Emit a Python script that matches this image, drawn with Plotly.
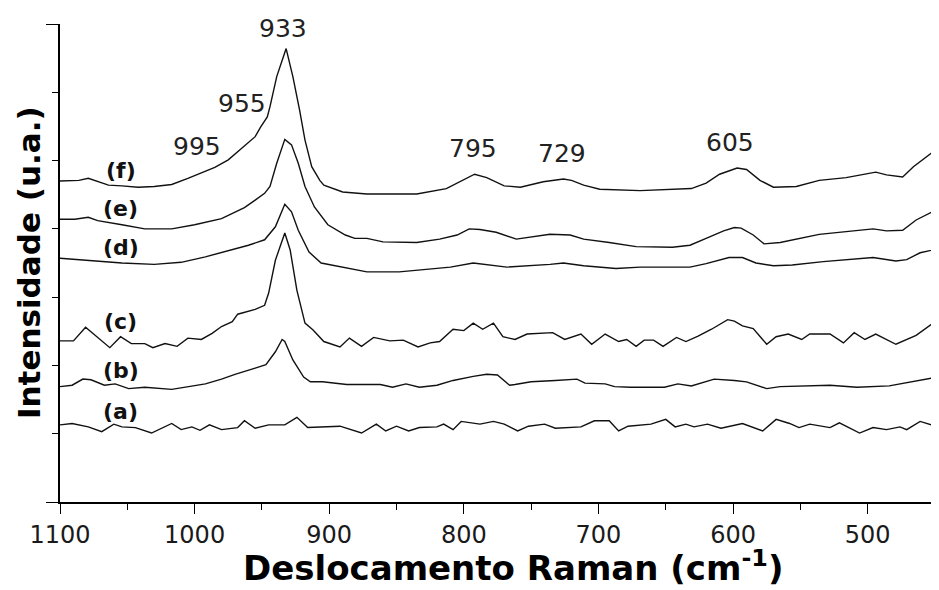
import plotly.graph_objects as go

# ---- data ----
wn_a = [1100,1091,1079,1069,1060,1054,1044,1032,1017,1010,1002,996,989,980,968,963,955,945,933,924,916,907,892,876,865,858,850,841,833,820,815,808,802,788,778,770,760,752,740,732,713,703,692,685,678,661,650,643,635,629,619,609,599,593,578,568,558,551,543,528,521,506,496,486,476,471,461,448]
int_a = [1.13,1.15,1.10,1.03,1.14,1.10,1.09,1.01,1.15,1.06,1.10,1.05,1.13,1.06,1.09,1.19,1.08,1.13,1.13,1.24,1.09,1.10,1.11,1.01,1.14,1.04,1.11,1.04,1.09,1.10,1.14,1.06,1.18,1.14,1.18,1.14,1.04,1.11,1.14,1.08,1.10,1.19,1.19,1.04,1.11,1.14,1.21,1.10,1.14,1.10,1.14,1.08,1.13,1.15,1.04,1.21,1.15,1.09,1.14,1.09,1.16,1.01,1.09,1.06,1.10,1.06,1.18,1.10]

wn_b = [1100,1091,1083,1077,1067,1059,1049,1037,1017,1005,992,980,970,955,947,940,935,933,927,919,914,905,887,862,853,843,833,820,808,793,783,775,766,762,750,732,716,710,695,688,676,651,641,631,614,599,590,575,565,528,508,484,461,448]
int_b = [1.69,1.71,1.80,1.79,1.71,1.73,1.66,1.68,1.65,1.69,1.73,1.80,1.87,1.96,2.01,2.20,2.38,2.35,2.08,1.83,1.76,1.76,1.72,1.72,1.68,1.73,1.68,1.71,1.78,1.84,1.87,1.86,1.71,1.72,1.76,1.78,1.80,1.74,1.73,1.69,1.68,1.68,1.73,1.70,1.80,1.78,1.76,1.66,1.69,1.71,1.68,1.70,1.78,1.83]

wn_c = [1100,1090,1081,1074,1063,1055,1047,1037,1031,1022,1013,1005,995,987,980,972,968,955,948,945,940,933,929,924,918,912,904,892,885,876,867,855,845,834,825,818,808,800,793,786,778,771,762,753,734,725,713,705,695,685,679,672,666,659,652,642,635,626,616,604,599,593,585,575,568,559,549,543,528,518,510,502,494,479,464,452,447]
int_c = [2.36,2.36,2.56,2.44,2.26,2.42,2.32,2.32,2.26,2.32,2.28,2.40,2.38,2.47,2.57,2.64,2.75,2.82,2.88,3.06,3.54,3.94,3.69,3.10,2.62,2.52,2.35,2.27,2.40,2.28,2.41,2.36,2.37,2.27,2.33,2.35,2.53,2.51,2.62,2.53,2.62,2.42,2.38,2.46,2.48,2.38,2.46,2.31,2.46,2.35,2.38,2.28,2.37,2.37,2.28,2.41,2.35,2.43,2.53,2.67,2.65,2.58,2.54,2.31,2.42,2.46,2.38,2.46,2.46,2.33,2.48,2.38,2.46,2.31,2.44,2.61,2.62]

wn_d = [1100,1079,1054,1030,1010,992,975,960,948,940,933,928,923,915,906,891,872,848,823,810,793,781,768,736,726,711,687,669,632,620,603,593,583,570,556,533,496,479,471,461,447]
int_d = [3.57,3.54,3.50,3.48,3.51,3.59,3.68,3.76,3.84,4.03,4.36,4.25,3.98,3.66,3.50,3.44,3.37,3.37,3.42,3.44,3.50,3.47,3.44,3.48,3.50,3.46,3.42,3.44,3.44,3.49,3.58,3.58,3.50,3.46,3.47,3.52,3.58,3.53,3.55,3.65,3.71]

wn_e = [1100,1089,1079,1072,1054,1037,1017,1000,980,963,955,948,944,939,933,928,923,918,911,901,888,881,872,860,835,818,805,796,788,776,761,750,736,721,711,692,672,645,632,620,607,599,594,585,577,565,551,536,516,496,486,474,464,452,447]
int_e = [4.14,4.14,4.17,4.12,4.06,4.00,4.00,4.06,4.15,4.31,4.42,4.52,4.62,4.96,5.31,5.23,4.96,4.62,4.32,4.06,3.91,3.86,3.86,3.81,3.80,3.85,3.91,4.00,3.99,3.95,3.85,3.88,3.92,3.91,3.85,3.80,3.74,3.73,3.76,3.86,3.97,4.02,4.01,3.91,3.78,3.80,3.86,3.92,3.96,4.00,3.97,3.98,4.13,4.25,4.27]

wn_f = [1100,1086,1079,1073,1064,1054,1042,1030,1017,1005,995,985,975,965,955,951,946,944,939,932,927,922,918,913,907,904,890,872,835,813,803,792,783,770,758,741,726,720,711,699,669,650,631,620,610,597,590,580,570,553,536,516,494,486,474,466,452,447]
int_f = [4.70,4.71,4.74,4.70,4.64,4.63,4.61,4.62,4.65,4.74,4.82,4.90,5.01,5.18,5.35,5.49,5.64,5.79,6.23,6.64,6.23,5.74,5.30,4.91,4.71,4.64,4.54,4.51,4.51,4.59,4.69,4.80,4.75,4.63,4.61,4.69,4.73,4.71,4.64,4.58,4.56,4.57,4.59,4.67,4.80,4.89,4.87,4.71,4.61,4.62,4.71,4.75,4.83,4.79,4.76,4.91,5.12,5.13]

curve_names = ["(a)", "(b)", "(c)", "(d)", "(e)", "(f)"]
curve_label_x = 1055
curve_label_y = [1.32, 1.92, 2.65, 3.73, 4.30, 4.86]

peak_labels = ["995", "955", "933", "795", "729", "605"]
peak_label_x = [998, 965, 934, 793, 727, 602]
peak_label_y = [5.21, 5.83, 6.94, 5.18, 5.11, 5.26]

x_tick_vals = [1100, 1000, 900, 800, 700, 600, 500]
x_tick_text = ["1100", "1000", "900", "800", "700", "600", "500"]

# ---- figure ----
fig = go.Figure()
series = [(wn_a, int_a), (wn_b, int_b), (wn_c, int_c), (wn_d, int_d), (wn_e, int_e), (wn_f, int_f)]
for name, (xs, ys) in zip(curve_names, series):
    fig.add_trace(go.Scatter(x=xs, y=ys, mode="lines", name=name,
                             line=dict(color="#111111", width=1.4), showlegend=False))

annotations = []
for name, yv in zip(curve_names, curve_label_y):
    annotations.append(dict(x=curve_label_x, y=yv, xref="x", yref="y", text="<b>" + name + "</b>",
                            showarrow=False, font=dict(family="DejaVu Sans", size=22, color="#111111")))
for t, xv, yv in zip(peak_labels, peak_label_x, peak_label_y):
    annotations.append(dict(x=xv, y=yv, xref="x", yref="y", text=t, showarrow=False,
                            font=dict(family="DejaVu Sans", size=25, color="#222222")))

annotations.append(dict(x=0, y=0.5, xref="paper", yref="paper", xshift=-31, text="<b>Intensidade (u.a.)</b>",
                        textangle=-90, showarrow=False, xanchor="center", yanchor="middle",
                        font=dict(family="DejaVu Sans", size=31, color="#000000")))
annotations.append(dict(x=0.515, y=0, xref="paper", yref="paper", yshift=-64,
                        text="<b>Deslocamento Raman (cm<sup>-1</sup>)</b>",
                        showarrow=False, xanchor="center", yanchor="middle",
                        font=dict(family="DejaVu Sans", size=34, color="#000000")))

# the page body keeps an 8px default margin, so the figure is 8px smaller on each axis
fig.update_layout(
    width=931, height=582,
    margin=dict(l=52, r=0, t=16, b=88),
    paper_bgcolor="white", plot_bgcolor="white",
    annotations=annotations,
)
fig.update_xaxes(
    range=[1100, 447], showgrid=False, zeroline=False,
    showline=True, linecolor="black", linewidth=1.6,
    tickmode="array", tickvals=x_tick_vals, ticktext=x_tick_text,
    ticks="outside", ticklen=10, tickwidth=1.4, tickcolor="black",
    tickfont=dict(family="DejaVu Sans", size=24, color="#1a1a1a"),
    minor=dict(tickmode="linear", tick0=0, dtick=50, ticks="outside", ticklen=6, tickwidth=1.2, tickcolor="black"),
)
fig.update_yaxes(
    range=[0, 7], showgrid=False, zeroline=False,
    showline=True, linecolor="black", linewidth=1.6,
    tickmode="array", tickvals=[0, 7], showticklabels=False,
    ticks="outside", ticklen=12, tickwidth=1.4, tickcolor="black",
    minor=dict(tickmode="linear", tick0=0, dtick=1, ticks="outside", ticklen=6, tickwidth=1.2, tickcolor="black"),
)

fig.write_html("out.html")
